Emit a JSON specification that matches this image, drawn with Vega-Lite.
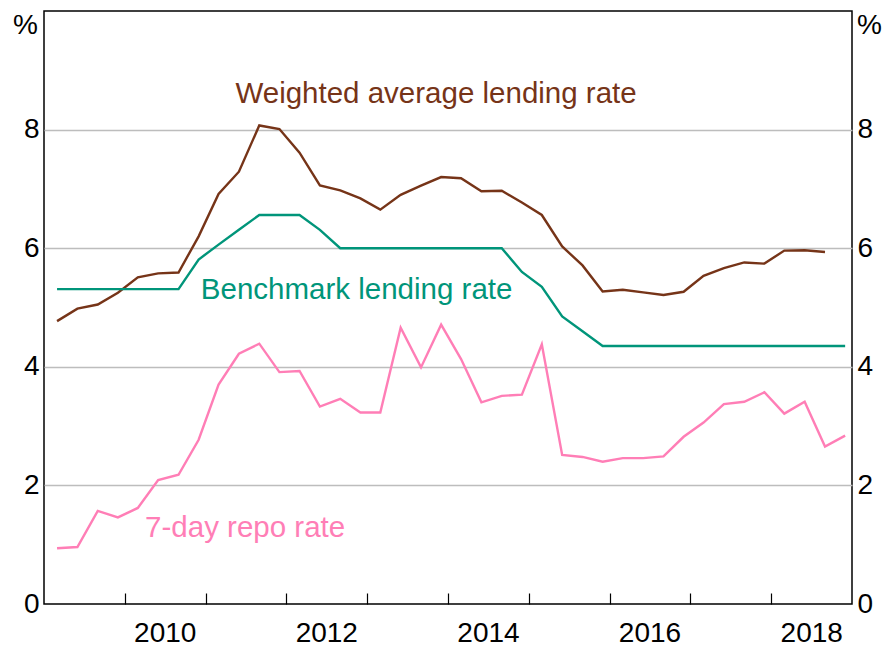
{
  "$schema": "https://vega.github.io/schema/vega-lite/v6.json",
  "width": 808,
  "height": 593,
  "autosize": {"type": "none"},
  "padding": {"left": 44, "top": 11, "right": 30, "bottom": 46},
  "background": "white",
  "config": {
    "font": "Liberation Sans",
    "view": {"stroke": "#000000", "strokeWidth": 1.5},
    "axis": {"labelFont": "Liberation Sans", "labelFontSize": 28, "labelColor": "#000000", "titleFont": "Liberation Sans", "titleColor": "#000000"}
  },
  "datasets": {
    "series": [
      {"date": "2009-03-01", "series": "Weighted average lending rate", "value": 4.77},
      {"date": "2009-06-01", "series": "Weighted average lending rate", "value": 4.98},
      {"date": "2009-09-01", "series": "Weighted average lending rate", "value": 5.05},
      {"date": "2009-12-01", "series": "Weighted average lending rate", "value": 5.25},
      {"date": "2010-03-01", "series": "Weighted average lending rate", "value": 5.51},
      {"date": "2010-06-01", "series": "Weighted average lending rate", "value": 5.575},
      {"date": "2010-09-01", "series": "Weighted average lending rate", "value": 5.59},
      {"date": "2010-12-01", "series": "Weighted average lending rate", "value": 6.2},
      {"date": "2011-03-01", "series": "Weighted average lending rate", "value": 6.915},
      {"date": "2011-06-01", "series": "Weighted average lending rate", "value": 7.29},
      {"date": "2011-09-01", "series": "Weighted average lending rate", "value": 8.07},
      {"date": "2011-12-01", "series": "Weighted average lending rate", "value": 8.01},
      {"date": "2012-03-01", "series": "Weighted average lending rate", "value": 7.61},
      {"date": "2012-06-01", "series": "Weighted average lending rate", "value": 7.06},
      {"date": "2012-09-01", "series": "Weighted average lending rate", "value": 6.975},
      {"date": "2012-12-01", "series": "Weighted average lending rate", "value": 6.84},
      {"date": "2013-03-01", "series": "Weighted average lending rate", "value": 6.65},
      {"date": "2013-06-01", "series": "Weighted average lending rate", "value": 6.9},
      {"date": "2013-09-01", "series": "Weighted average lending rate", "value": 7.055},
      {"date": "2013-12-01", "series": "Weighted average lending rate", "value": 7.2},
      {"date": "2014-03-01", "series": "Weighted average lending rate", "value": 7.18},
      {"date": "2014-06-01", "series": "Weighted average lending rate", "value": 6.96},
      {"date": "2014-09-01", "series": "Weighted average lending rate", "value": 6.97},
      {"date": "2014-12-01", "series": "Weighted average lending rate", "value": 6.77},
      {"date": "2015-03-01", "series": "Weighted average lending rate", "value": 6.56},
      {"date": "2015-06-01", "series": "Weighted average lending rate", "value": 6.03},
      {"date": "2015-09-01", "series": "Weighted average lending rate", "value": 5.71},
      {"date": "2015-12-01", "series": "Weighted average lending rate", "value": 5.27},
      {"date": "2016-03-01", "series": "Weighted average lending rate", "value": 5.3},
      {"date": "2016-06-01", "series": "Weighted average lending rate", "value": 5.255},
      {"date": "2016-09-01", "series": "Weighted average lending rate", "value": 5.21},
      {"date": "2016-12-01", "series": "Weighted average lending rate", "value": 5.265},
      {"date": "2017-03-01", "series": "Weighted average lending rate", "value": 5.535},
      {"date": "2017-06-01", "series": "Weighted average lending rate", "value": 5.665},
      {"date": "2017-09-01", "series": "Weighted average lending rate", "value": 5.76},
      {"date": "2017-12-01", "series": "Weighted average lending rate", "value": 5.74},
      {"date": "2018-03-01", "series": "Weighted average lending rate", "value": 5.96},
      {"date": "2018-06-01", "series": "Weighted average lending rate", "value": 5.965},
      {"date": "2018-09-01", "series": "Weighted average lending rate", "value": 5.935},

      {"date": "2009-03-01", "series": "Benchmark lending rate", "value": 5.31},
      {"date": "2009-06-01", "series": "Benchmark lending rate", "value": 5.31},
      {"date": "2009-09-01", "series": "Benchmark lending rate", "value": 5.31},
      {"date": "2009-12-01", "series": "Benchmark lending rate", "value": 5.31},
      {"date": "2010-03-01", "series": "Benchmark lending rate", "value": 5.31},
      {"date": "2010-06-01", "series": "Benchmark lending rate", "value": 5.31},
      {"date": "2010-09-01", "series": "Benchmark lending rate", "value": 5.31},
      {"date": "2010-12-01", "series": "Benchmark lending rate", "value": 5.81},
      {"date": "2011-03-01", "series": "Benchmark lending rate", "value": 6.06},
      {"date": "2011-06-01", "series": "Benchmark lending rate", "value": 6.31},
      {"date": "2011-09-01", "series": "Benchmark lending rate", "value": 6.56},
      {"date": "2011-12-01", "series": "Benchmark lending rate", "value": 6.56},
      {"date": "2012-03-01", "series": "Benchmark lending rate", "value": 6.56},
      {"date": "2012-06-01", "series": "Benchmark lending rate", "value": 6.31},
      {"date": "2012-09-01", "series": "Benchmark lending rate", "value": 6.0},
      {"date": "2012-12-01", "series": "Benchmark lending rate", "value": 6.0},
      {"date": "2013-03-01", "series": "Benchmark lending rate", "value": 6.0},
      {"date": "2013-06-01", "series": "Benchmark lending rate", "value": 6.0},
      {"date": "2013-09-01", "series": "Benchmark lending rate", "value": 6.0},
      {"date": "2013-12-01", "series": "Benchmark lending rate", "value": 6.0},
      {"date": "2014-03-01", "series": "Benchmark lending rate", "value": 6.0},
      {"date": "2014-06-01", "series": "Benchmark lending rate", "value": 6.0},
      {"date": "2014-09-01", "series": "Benchmark lending rate", "value": 6.0},
      {"date": "2014-12-01", "series": "Benchmark lending rate", "value": 5.6},
      {"date": "2015-03-01", "series": "Benchmark lending rate", "value": 5.35},
      {"date": "2015-06-01", "series": "Benchmark lending rate", "value": 4.85},
      {"date": "2015-09-01", "series": "Benchmark lending rate", "value": 4.6},
      {"date": "2015-12-01", "series": "Benchmark lending rate", "value": 4.35},
      {"date": "2016-03-01", "series": "Benchmark lending rate", "value": 4.35},
      {"date": "2016-06-01", "series": "Benchmark lending rate", "value": 4.35},
      {"date": "2016-09-01", "series": "Benchmark lending rate", "value": 4.35},
      {"date": "2016-12-01", "series": "Benchmark lending rate", "value": 4.35},
      {"date": "2017-03-01", "series": "Benchmark lending rate", "value": 4.35},
      {"date": "2017-06-01", "series": "Benchmark lending rate", "value": 4.35},
      {"date": "2017-09-01", "series": "Benchmark lending rate", "value": 4.35},
      {"date": "2017-12-01", "series": "Benchmark lending rate", "value": 4.35},
      {"date": "2018-03-01", "series": "Benchmark lending rate", "value": 4.35},
      {"date": "2018-06-01", "series": "Benchmark lending rate", "value": 4.35},
      {"date": "2018-09-01", "series": "Benchmark lending rate", "value": 4.35},
      {"date": "2018-12-01", "series": "Benchmark lending rate", "value": 4.35},

      {"date": "2009-03-01", "series": "7-day repo rate", "value": 0.94},
      {"date": "2009-06-01", "series": "7-day repo rate", "value": 0.96},
      {"date": "2009-09-01", "series": "7-day repo rate", "value": 1.57},
      {"date": "2009-12-01", "series": "7-day repo rate", "value": 1.46},
      {"date": "2010-03-01", "series": "7-day repo rate", "value": 1.62},
      {"date": "2010-06-01", "series": "7-day repo rate", "value": 2.09},
      {"date": "2010-09-01", "series": "7-day repo rate", "value": 2.18},
      {"date": "2010-12-01", "series": "7-day repo rate", "value": 2.77},
      {"date": "2011-03-01", "series": "7-day repo rate", "value": 3.7},
      {"date": "2011-06-01", "series": "7-day repo rate", "value": 4.22},
      {"date": "2011-09-01", "series": "7-day repo rate", "value": 4.39},
      {"date": "2011-12-01", "series": "7-day repo rate", "value": 3.91},
      {"date": "2012-03-01", "series": "7-day repo rate", "value": 3.93},
      {"date": "2012-06-01", "series": "7-day repo rate", "value": 3.33},
      {"date": "2012-09-01", "series": "7-day repo rate", "value": 3.46},
      {"date": "2012-12-01", "series": "7-day repo rate", "value": 3.23},
      {"date": "2013-03-01", "series": "7-day repo rate", "value": 3.23},
      {"date": "2013-06-01", "series": "7-day repo rate", "value": 4.66},
      {"date": "2013-09-01", "series": "7-day repo rate", "value": 3.99},
      {"date": "2013-12-01", "series": "7-day repo rate", "value": 4.71},
      {"date": "2014-03-01", "series": "7-day repo rate", "value": 4.13},
      {"date": "2014-06-01", "series": "7-day repo rate", "value": 3.4},
      {"date": "2014-09-01", "series": "7-day repo rate", "value": 3.51},
      {"date": "2014-12-01", "series": "7-day repo rate", "value": 3.53},
      {"date": "2015-03-01", "series": "7-day repo rate", "value": 4.38},
      {"date": "2015-06-01", "series": "7-day repo rate", "value": 2.515},
      {"date": "2015-09-01", "series": "7-day repo rate", "value": 2.48},
      {"date": "2015-12-01", "series": "7-day repo rate", "value": 2.4},
      {"date": "2016-03-01", "series": "7-day repo rate", "value": 2.46},
      {"date": "2016-06-01", "series": "7-day repo rate", "value": 2.46},
      {"date": "2016-09-01", "series": "7-day repo rate", "value": 2.49},
      {"date": "2016-12-01", "series": "7-day repo rate", "value": 2.82},
      {"date": "2017-03-01", "series": "7-day repo rate", "value": 3.06},
      {"date": "2017-06-01", "series": "7-day repo rate", "value": 3.37},
      {"date": "2017-09-01", "series": "7-day repo rate", "value": 3.41},
      {"date": "2017-12-01", "series": "7-day repo rate", "value": 3.57},
      {"date": "2018-03-01", "series": "7-day repo rate", "value": 3.21},
      {"date": "2018-06-01", "series": "7-day repo rate", "value": 3.41},
      {"date": "2018-09-01", "series": "7-day repo rate", "value": 2.655},
      {"date": "2018-12-01", "series": "7-day repo rate", "value": 2.84}
    ],
    "labels": [
      {"date": "2013-11-08", "series": "Weighted average lending rate", "value": 8.6, "label": "Weighted average lending rate"},
      {"date": "2012-11-14", "series": "Benchmark lending rate", "value": 5.3, "label": "Benchmark lending rate"},
      {"date": "2011-06-29", "series": "7-day repo rate", "value": 1.28, "label": "7-day repo rate"}
    ]
  },
  "layer": [
    {
      "data": {"name": "series"},
      "mark": {"type": "line", "strokeWidth": 2.4},
      "encoding": {
        "x": {
          "field": "date", "type": "temporal",
          "scale": {"domain": [{"year": 2009, "month": 1, "date": 1}, {"year": 2019, "month": 1, "date": 1}]},
          "axis": {
            "title": null,
            "values": [
              {"year": 2010, "month": 1, "date": 1}, {"year": 2011, "month": 1, "date": 1},
              {"year": 2012, "month": 1, "date": 1}, {"year": 2013, "month": 1, "date": 1},
              {"year": 2014, "month": 1, "date": 1}, {"year": 2015, "month": 1, "date": 1},
              {"year": 2016, "month": 1, "date": 1}, {"year": 2017, "month": 1, "date": 1},
              {"year": 2018, "month": 1, "date": 1}
            ],
            "labelExpr": "year(datum.value) % 2 == 0 ? timeFormat(datum.value, '%Y') : ''",
            "labelOffset": 40,
            "labelAlign": "center",
            "labelPadding": 26,
            "tickSize": -11,
            "tickColor": "#000000",
            "tickWidth": 1.2,
            "domain": false,
            "grid": false
          }
        },
        "y": {
          "field": "value", "type": "quantitative",
          "scale": {"domain": [0, 10], "nice": false},
          "axis": {
            "orient": "left",
            "values": [0, 2, 4, 6, 8],
            "ticks": false,
            "domain": false,
            "labelPadding": 5,
            "grid": true,
            "gridColor": "#BDBDBD",
            "gridWidth": 1.3,
            "gridOpacity": {"condition": {"test": "datum.value == 0", "value": 0}, "value": 1},
            "title": "%",
            "titleAngle": 0,
            "titleFontSize": 28,
            "titleFontWeight": "normal",
            "titleAlign": "center",
            "titleBaseline": "middle",
            "titleX": -19,
            "titleY": 14
          }
        },
        "color": {
          "field": "series", "type": "nominal",
          "scale": {
            "domain": ["Weighted average lending rate", "Benchmark lending rate", "7-day repo rate"],
            "range": ["#763418", "#00957A", "#FF7EB6"]
          },
          "legend": null
        }
      }
    },
    {
      "data": {"name": "labels"},
      "mark": {"type": "text", "fontSize": 29.5, "align": "center", "baseline": "middle", "font": "Liberation Sans"},
      "encoding": {
        "x": {"field": "date", "type": "temporal"},
        "y": {
          "field": "value", "type": "quantitative",
          "axis": {
            "orient": "right",
            "values": [0, 2, 4, 6, 8],
            "ticks": false,
            "domain": false,
            "grid": false,
            "labelPadding": 5,
            "title": "%",
            "titleAngle": 0,
            "titleFontSize": 28,
            "titleFontWeight": "normal",
            "titleAlign": "center",
            "titleBaseline": "middle",
            "titleX": 17,
            "titleY": 14
          }
        },
        "text": {"field": "label"},
        "color": {"field": "series", "type": "nominal", "legend": null}
      }
    }
  ],
  "resolve": {"axis": {"y": "independent"}}
}
